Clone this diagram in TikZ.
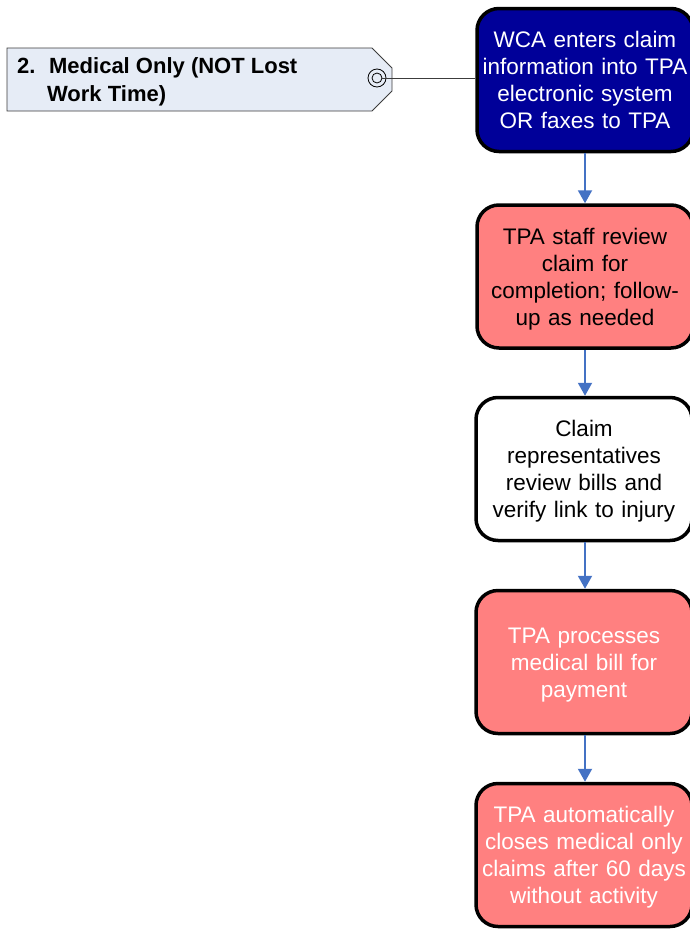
\documentclass[tikz,border=0pt]{standalone}
\usepackage{fontspec}
\setmainfont{Liberation Sans}
\usetikzlibrary{arrows.meta}
\definecolor{navyfill}{RGB}{0,0,153}
\definecolor{salmon}{RGB}{255,128,128}
\definecolor{arrowblue}{RGB}{68,114,196}
\definecolor{tagfill}{RGB}{230,236,246}
\definecolor{tagline}{RGB}{60,60,60}
\newcommand{\toppad}{\rule{0pt}{21.5pt}}
\tikzset{
  procbox/.style={draw=black, line width=3.5pt, rounded corners=22pt,
    minimum width=216pt, minimum height=143pt, text width=216pt, align=center,
    font=\fontsize{22.5}{27}\selectfont, inner sep=0pt},
  flow/.style={draw=arrowblue, line width=2pt, -{Triangle[length=13pt,width=14pt]}},
}
\begin{document}
\begin{tikzpicture}[x=1pt,y=-1pt]
\useasboundingbox (0,0) rectangle (690,929);
% tag
\draw[tagline, fill=tagfill, line width=0.8pt] (7,48) -- (372,48) -- (392,68) -- (392,91) -- (372,111) -- (7,111) -- cycle;
\node[anchor=west, inner sep=0pt, font=\bfseries\fontsize{22}{28}\selectfont, align=left] (tagtext) at (17,82)
  {2.\hspace{0.62em}Medical Only (NOT Lost\\\hspace{1.36em}Work Time)};
\node[draw=black, circle, minimum size=18pt, inner sep=0pt, line width=0.8pt] (ring) at (377,78) {};
\node[draw=black, circle, minimum size=10pt, inner sep=0pt, line width=0.8pt] (ringin) at (377,78) {};
% boxes
\node[procbox, fill=navyfill, text=white] (b1) at (585,80) {WCA enters claim\\information into TPA\\electronic system\\OR faxes to TPA};
\node[procbox, fill=salmon, text=black, minimum width=213pt] (b2) at (585,276.5) {\toppad TPA staff review\\claim for\\completion; follow-\\up as needed};
\node[procbox, fill=white, text=black] (b3) at (584,469) {\toppad Claim\\representatives\\review bills and\\verify link to injury};
\node[procbox, fill=salmon, text=white] (b4) at (584,662) {\toppad TPA processes\\medical bill for\\payment};
\node[procbox, fill=salmon, text=white] (b5) at (584,855) {\toppad TPA automatically\\closes medical only\\claims after 60 days\\without activity};
% connectors
\draw[tagline, line width=0.8pt] (ringin.east) -- (b1.west |- ringin.east);
\draw[flow] (b1.south -| 585,0) -- (b2.north -| 585,0);
\draw[flow] (b2.south -| 585,0) -- (b3.north -| 585,0);
\draw[flow] (b3.south -| 585,0) -- (b4.north -| 585,0);
\draw[flow] (b4.south -| 585,0) -- (b5.north -| 585,0);
\end{tikzpicture}
\end{document}
